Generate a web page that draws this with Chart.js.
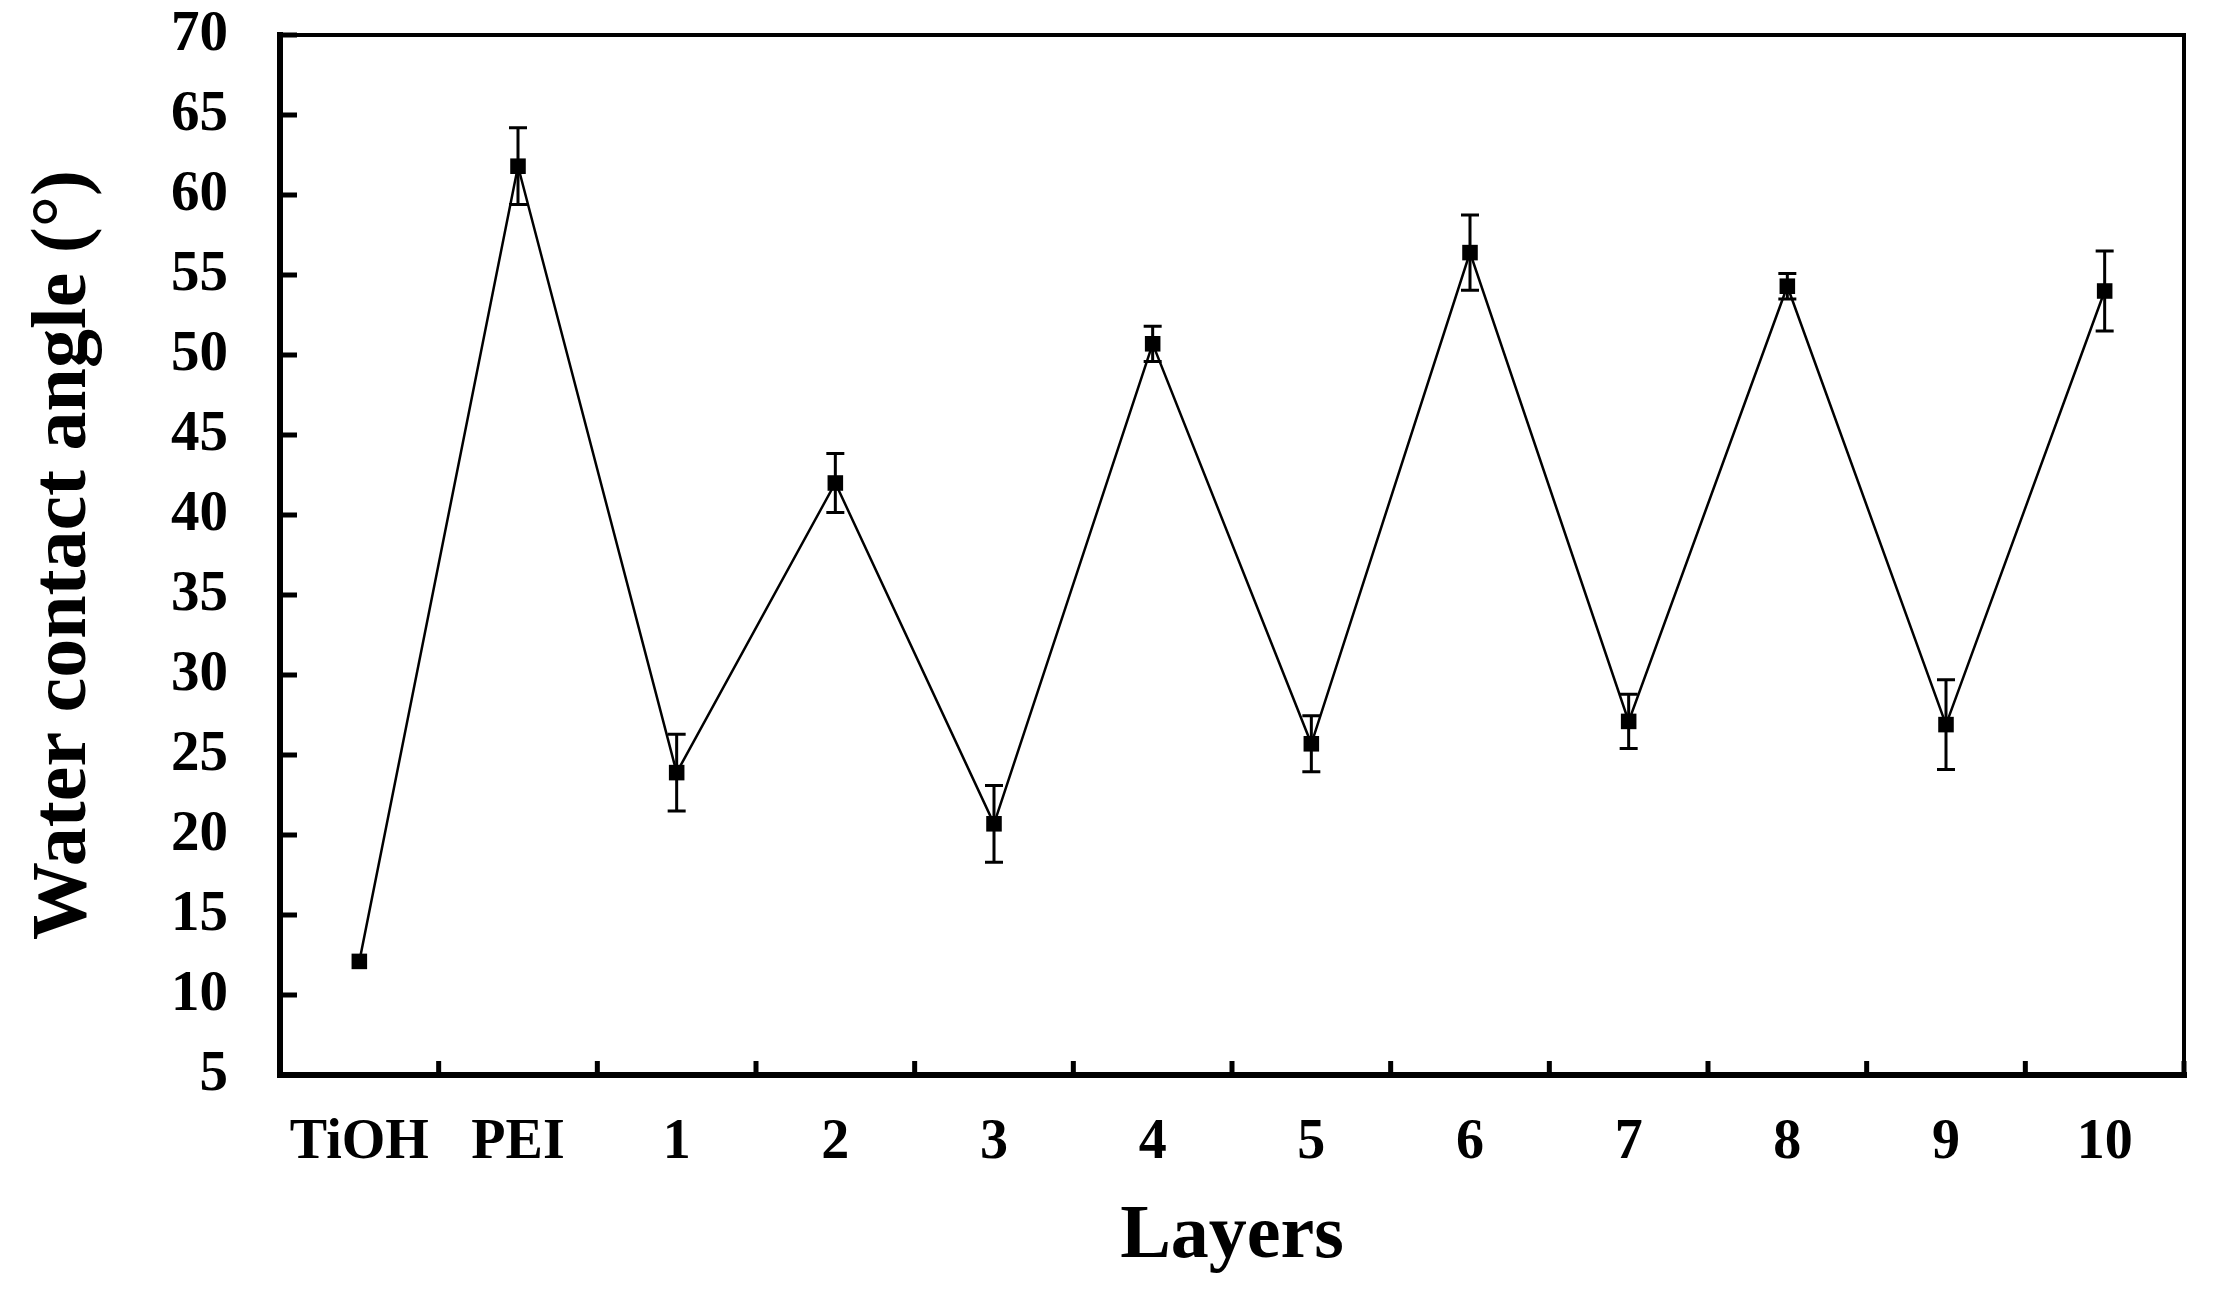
<!DOCTYPE html>
<html>
<head>
<meta charset="utf-8">
<script src="https://cdn.jsdelivr.net/npm/chart.js@4.4.0/dist/chart.umd.min.js"></script>
<style>
  html, body { margin: 0; padding: 0; background: #fff; }
  #wrap { width: 2230px; height: 1305px; }
</style>
</head>
<body>
<div id="wrap"><canvas id="angleChart" width="2230" height="1305"></canvas></div>
<script>
const layers = ['TiOH', 'PEI', '1', '2', '3', '4', '5', '6', '7', '8', '9', '10'];
const contactAngle = [12.1, 61.8, 23.9, 42.0, 20.7, 50.7, 25.7, 56.4, 27.1, 54.3, 26.9, 54.0];
const angleError = [0, 2.4, 2.4, 1.85, 2.4, 1.1, 1.75, 2.35, 1.7, 0.8, 2.8, 2.5];
const yMin = 5;
const yMax = 70;
const yStep = 5;

const serif = "'Liberation Serif', 'Times New Roman', serif";

// error bars + frame with inward ticks
const framePlugin = {
    id: 'framePlugin',
    beforeDatasetsDraw(chart) {
        const ctx = chart.ctx;
        const x = chart.scales.x;
        const y = chart.scales.y;
        ctx.save();
        ctx.strokeStyle = '#000';
        ctx.lineWidth = 3;
        angleError.forEach((e, i) => {
            if (!e) return;
            const px = x.getPixelForValue(i);
            const top = y.getPixelForValue(contactAngle[i] + e);
            const bot = y.getPixelForValue(contactAngle[i] - e);
            ctx.beginPath();
            ctx.moveTo(px, top); ctx.lineTo(px, bot);
            ctx.moveTo(px - 9, top); ctx.lineTo(px + 9, top);
            ctx.moveTo(px - 9, bot); ctx.lineTo(px + 9, bot);
            ctx.stroke();
        });
        ctx.restore();
    },
    afterDraw(chart) {
        const ctx = chart.ctx;
        const ca = chart.chartArea;
        const x = chart.scales.x;
        const y = chart.scales.y;
        ctx.save();
        ctx.strokeStyle = '#000';
        ctx.lineCap = 'square';
        ctx.lineWidth = 4;
        ctx.beginPath();
        ctx.moveTo(ca.left, ca.top);
        ctx.lineTo(ca.right, ca.top);
        ctx.lineTo(ca.right, ca.bottom);
        ctx.stroke();
        ctx.lineWidth = 6;
        ctx.beginPath();
        ctx.moveTo(ca.left, ca.top);
        ctx.lineTo(ca.left, ca.bottom);
        ctx.lineTo(ca.right, ca.bottom);
        ctx.stroke();
        ctx.lineCap = 'butt';
        ctx.lineWidth = 5;
        ctx.beginPath();
        y.ticks.forEach(t => {
            const py = y.getPixelForValue(t.value);
            ctx.moveTo(ca.left, py);
            ctx.lineTo(ca.left + 17, py);
        });
        for (let i = 1; i <= layers.length; i++) {
            let px;
            if (i < layers.length) {
                px = (x.getPixelForValue(i - 1) + x.getPixelForValue(i)) / 2;
            } else {
                px = ca.right;
            }
            ctx.moveTo(px, ca.bottom);
            ctx.lineTo(px, ca.bottom - 14);
        }
        ctx.stroke();
        ctx.restore();
    }
};

const ctx = document.getElementById('angleChart').getContext('2d');
const angleChart = new Chart(ctx, {
    type: 'line',
    data: {
        labels: layers,
        datasets: [{
            label: 'Water contact angle',
            data: contactAngle,
            borderColor: '#000',
            borderWidth: 2.5,
            backgroundColor: '#000',
            pointStyle: 'rect',
            pointRadius: 11,
            pointBackgroundColor: '#000',
            pointBorderWidth: 0,
            tension: 0,
            fill: false
        }]
    },
    options: {
        responsive: false,
        animation: false,
        devicePixelRatio: 1,
        layout: { padding: { left: 0, right: 46, top: 35, bottom: 0 } },
        plugins: {
            legend: { display: false },
            tooltip: { enabled: false }
        },
        scales: {
            x: {
                type: 'category',
                offset: true,
                grid: { display: false, drawTicks: false },
                border: { display: false },
                ticks: {
                    color: '#000',
                    padding: 35,
                    maxRotation: 0,
                    autoSkip: false,
                    font: { family: serif, size: 56, weight: 'bold' }
                },
                title: {
                    display: true,
                    text: 'Layers',
                    color: '#000',
                    padding: { top: 0, bottom: 22 },
                    font: { family: serif, size: 76, weight: 'bold' }
                },
                afterFit(scale) {
                    scale.height = 230;
                    scale.paddingLeft = 0;
                    scale.paddingRight = 0;
                }
            },
            y: {
                min: yMin,
                max: yMax,
                grid: { display: false, drawTicks: false },
                border: { display: false },
                ticks: {
                    stepSize: yStep,
                    color: '#000',
                    padding: 52,
                    font: { family: serif, size: 57, weight: 'bold' }
                },
                title: {
                    display: true,
                    text: 'Water contact angle (°)',
                    color: '#000',
                    padding: { top: 18, bottom: 0 },
                    font: { family: serif, size: 78, weight: 'bold' }
                },
                afterFit(scale) {
                    scale.width = 280;
                    scale.paddingTop = 0;
                    scale.paddingBottom = 0;
                }
            }
        }
    },
    plugins: [framePlugin]
});
</script>
</body>
</html>
